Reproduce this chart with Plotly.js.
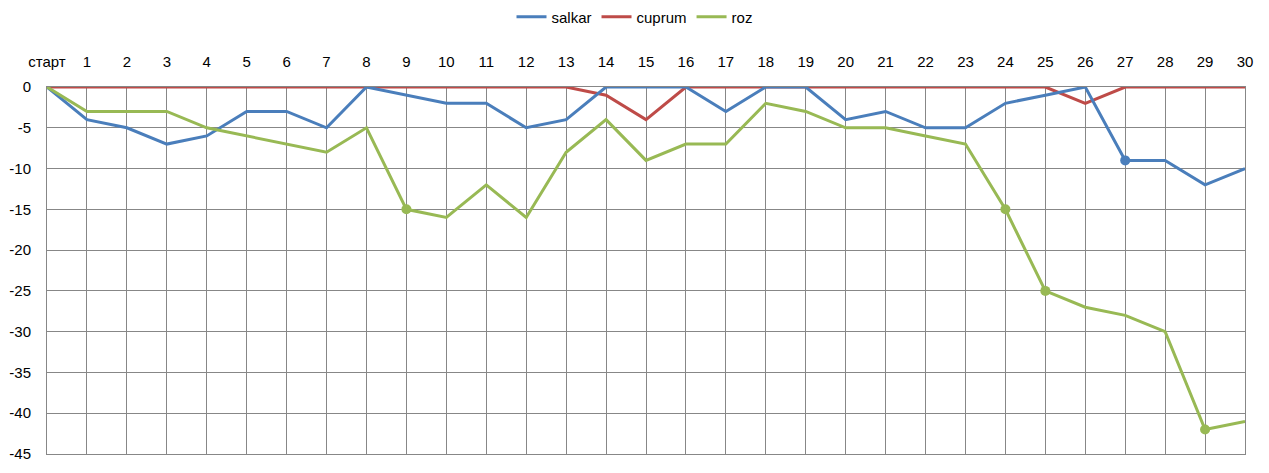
<!DOCTYPE html>
<html><head><meta charset="utf-8">
<script src="https://cdn.plot.ly/plotly-3.0.1.min.js"></script>
<style>html,body{margin:0;padding:0;background:#fff}#c{width:1269px;height:473px}</style>
</head><body><div id="c"></div>
<script>
var categories = ['старт','1','2','3','4','5','6','7','8','9','10','11','12','13','14','15','16','17','18','19','20','21','22','23','24','25','26','27','28','29','30'];
var salkar = [0,-4,-5,-7,-6,-3,-3,-5,0,-1,-2,-2,-5,-4,0,0,0,-3,0,0,-4,-3,-5,-5,-2,-1,0,-9,-9,-12,-10];
var cuprum = [0,0,0,0,0,0,0,0,0,0,0,0,0,0,-1,-4,0,0,0,0,0,0,0,0,0,0,-2,0,0,0,0];
var roz = [0,-3,-3,-3,-5,-6,-7,-8,-5,-15,-16,-12,-16,-8,-4,-9,-7,-7,-2,-3,-5,-5,-6,-7,-15,-25,-27,-28,-30,-42,-41];
var salkarMarked = ['27'];
var rozMarked = ['9','24','25','29'];
var yTicks = [0,-5,-10,-15,-20,-25,-30,-35,-40,-45];

var cBlue = '#4A7EBB', cRed = '#BE4B48', cGreen = '#98B954';
function pick(series, marked){ return marked.map(function(k){ return series[categories.indexOf(k)]; }); }

var traces = [
  {x: categories, y: cuprum, name: 'cuprum', mode: 'lines', line: {color: cRed, width: 3}, legendrank: 2},
  {x: categories, y: salkar, name: 'salkar', mode: 'lines', line: {color: cBlue, width: 3}, legendrank: 1},
  {x: categories, y: roz, name: 'roz', mode: 'lines', line: {color: cGreen, width: 3}, legendrank: 3},
  {x: salkarMarked, y: pick(salkar, salkarMarked), mode: 'markers', marker: {color: cBlue, size: 10}, showlegend: false, hoverinfo: 'skip'},
  {x: rozMarked, y: pick(roz, rozMarked), mode: 'markers', marker: {color: cGreen, size: 10}, showlegend: false, hoverinfo: 'skip'}
];

var grid = '#878787';
var layout = {
  width: 1269, height: 473,
  margin: {l: 47, r: 24, t: 87, b: 19, autoexpand: false},
  paper_bgcolor: '#fff', plot_bgcolor: '#fff',
  font: {family: 'Liberation Sans, Arial, sans-serif', size: 15, color: '#000'},
  showlegend: true,
  legend: {orientation: 'h', x: 0.5, xanchor: 'center', xref: 'container', y: 0.964, yref: 'container', yanchor: 'middle', font: {size: 15}, tracegroupgap: 0},
  xaxis: {
    type: 'category', categoryorder: 'array', categoryarray: categories,
    range: [0, categories.length - 1], side: 'top', automargin: false,
    showgrid: true, gridcolor: grid, gridwidth: 1,
    showline: true, mirror: true, linecolor: grid, linewidth: 1,
    ticks: 'outside', ticklen: 13, tickcolor: 'rgba(0,0,0,0)',
    zeroline: false, fixedrange: true
  },
  yaxis: {
    range: [-45, 0], tickvals: yTicks, ticktext: yTicks.map(String), automargin: false,
    showgrid: true, gridcolor: grid, gridwidth: 1,
    showline: true, mirror: true, linecolor: grid, linewidth: 1,
    ticks: 'outside', ticklen: 12, tickcolor: 'rgba(0,0,0,0)',
    zeroline: false, fixedrange: true
  }
};
Plotly.newPlot('c', traces, layout, {displayModeBar: false, staticPlot: true});
</script></body></html>
